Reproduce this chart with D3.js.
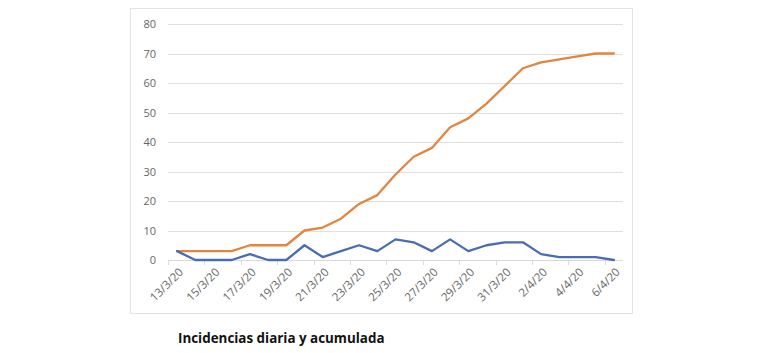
<!DOCTYPE html>
<html>
<head>
<meta charset="utf-8">
<script src="https://cdn.jsdelivr.net/npm/d3@7"></script>
<style>
  html, body { margin: 0; padding: 0; background: #fff; }
  svg { display: block; }
</style>
</head>
<body>
<svg id="chart" width="770" height="353"></svg>
<script>
const dates = ["13/3/20","14/3/20","15/3/20","16/3/20","17/3/20","18/3/20","19/3/20","20/3/20","21/3/20","22/3/20","23/3/20","24/3/20","25/3/20","26/3/20","27/3/20","28/3/20","29/3/20","30/3/20","31/3/20","1/4/20","2/4/20","3/4/20","4/4/20","5/4/20","6/4/20"];
const daily = [3,0,0,0,2,0,0,5,1,3,5,3,7,6,3,7,3,5,6,6,2,1,1,1,0];
const cumulative = [3,3,3,3,5,5,5,10,11,14,19,22,29,35,38,45,48,53,59,65,67,68,69,70,70];
const yTicks = [0,10,20,30,40,50,60,70,80];
const title = "Incidencias diaria y acumulada";

(function () {
const svg = d3.select("#chart");
const pLeft = 168, pRight = 623, pTop = 24, pBottom = 260;

// outer chart frame
svg.append("rect").attr("x", 130.5).attr("y", 8.5).attr("width", 502).attr("height", 305)
  .attr("fill", "#fff").attr("stroke", "#e3e3e3").attr("stroke-width", 1);

const x = d3.scaleBand().domain(dates).range([pLeft, pRight]).padding(0);
const y = d3.scaleLinear().domain([0, 80]).range([pBottom, pTop]);

// gridlines
svg.append("g").selectAll("line").data(yTicks.filter(d => d > 0)).join("line")
  .attr("x1", pLeft).attr("x2", pRight)
  .attr("y1", d => Math.round(y(d)) + 0.5).attr("y2", d => Math.round(y(d)) + 0.5)
  .attr("stroke", "#e0e0e0").attr("stroke-width", 1);

// y axis labels
const yAxis = d3.axisLeft(y).tickValues(yTicks).tickSize(0).tickPadding(12);
const gy = svg.append("g").attr("transform", `translate(${pLeft},0)`).call(yAxis);
gy.select(".domain").remove();
gy.selectAll("text").attr("fill", "#666").style("font-family", "'Open Sans', sans-serif").style("font-size", "11px");

// x axis baseline
svg.append("line").attr("x1", pLeft).attr("x2", pRight)
  .attr("y1", Math.round(pBottom) + 0.5).attr("y2", Math.round(pBottom) + 0.5)
  .attr("stroke", "#d9d9d9").attr("stroke-width", 1);

// x tick marks at every other category boundary
const boundaries = d3.range(0, dates.length + 1, 2).map(i => pLeft + i * x.bandwidth());
svg.append("g").selectAll("line").data(boundaries).join("line")
  .attr("x1", d => Math.round(d) + 0.5).attr("x2", d => Math.round(d) + 0.5)
  .attr("y1", pBottom).attr("y2", pBottom + 5)
  .attr("stroke", "#d9d9d9").attr("stroke-width", 1);

// x labels (every other date)
const cx = d => x(d) + x.bandwidth() / 2;
svg.append("g").selectAll("text").data(dates.filter((d, i) => i % 2 === 0)).join("text")
  .attr("transform", d => `translate(${cx(d) + 4},${pBottom + 10}) rotate(-45)`)
  .attr("text-anchor", "end")
  .attr("dy", "0.35em")
  .attr("fill", "#666")
  .style("font-family", "'Open Sans', sans-serif").style("font-size", "11.5px")
  .text(d => d);

// lines
const line = d3.line().x((d, i) => cx(dates[i])).y(d => y(d));
svg.append("path").datum(cumulative).attr("d", line)
  .attr("fill", "none").attr("stroke", "#E3843F").attr("stroke-width", 2.3)
  .attr("stroke-linejoin", "round").attr("stroke-linecap", "round");
svg.append("path").datum(daily).attr("d", line)
  .attr("fill", "none").attr("stroke", "#4A6CB3").attr("stroke-width", 2.3)
  .attr("stroke-linejoin", "round").attr("stroke-linecap", "round");

// title
svg.append("text").attr("x", 178).attr("y", 343)
  .attr("fill", "#111")
  .style("font-family", "'Open Sans', sans-serif").style("font-weight", "bold").style("font-size", "13.4px")
  .text(title);
})();
</script>
</body>
</html>
